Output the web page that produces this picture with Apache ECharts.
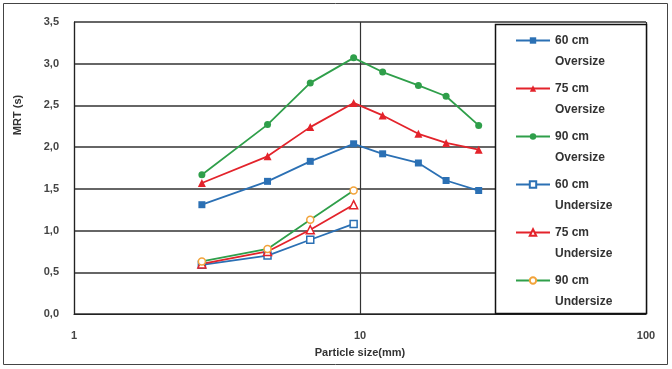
<!DOCTYPE html>
<html>
<head>
<meta charset="utf-8">
<script src="https://cdn.jsdelivr.net/npm/echarts@6/dist/echarts.min.js"></script>
<style>
  html, body { margin: 0; padding: 0; background: #fff; }
  #chart { width: 672px; height: 369px; }
</style>
</head>
<body>
<div id="chart"></div>
<script>
// particle sizes (mm)
const sizesOver = [2.8, 4.75, 6.7, 9.5, 12, 16, 20, 26];
const sizesUnder = [2.8, 4.75, 6.7, 9.5];

// MRT (s)
const over60 = [1.31, 1.59, 1.83, 2.04, 1.92, 1.81, 1.60, 1.48];
const over75 = [1.57, 1.89, 2.24, 2.53, 2.38, 2.16, 2.05, 1.97];
const over90 = [1.67, 2.27, 2.77, 3.07, 2.90, 2.74, 2.61, 2.26];
const under60 = [0.59, 0.70, 0.89, 1.08];
const under75 = [0.60, 0.75, 1.01, 1.31];
const under90 = [0.63, 0.78, 1.13, 1.48];

const seriesNames = ['60 cm\nOversize', '75 cm\nOversize', '90 cm\nOversize',
  '60 cm\nUndersize', '75 cm\nUndersize', '90 cm\nUndersize'];
const xTicks = [1, 10, 100];

const BLUE = '#2b70b4', RED = '#e3232b', GREEN = '#2f9f4a', ORANGE = '#f2a33a';
const FONT = '"Liberation Sans", Arial, sans-serif';

function pts(xs, ys) {
  return xs.map((x, i) => [x, ys[i]]);
}

function mk(name, xs, ys, color, symbol, hollow, markerColor) {
  return {
    name: name,
    type: 'line',
    data: pts(xs, ys),
    symbol: symbol,
    symbolSize: symbol === 'triangle' ? 8 : 7,
    showSymbol: true,
    lineStyle: { color: color, width: 1.8 },
    itemStyle: {
      color: hollow ? '#fff' : color,
      borderColor: markerColor || color,
      borderWidth: hollow ? 1.5 : 0
    },
    emphasis: { disabled: true },
    animation: false
  };
}

const chart = echarts.init(document.getElementById('chart'));
const option = {
  animation: false,
  grid: { left: 74, right: 26, top: 22, bottom: 55 },
  xAxis: {
    type: 'log',
    logBase: 10,
    min: 1,
    max: 100,
    name: 'Particle size(mm)',
    nameLocation: 'middle',
    nameGap: 33,
    nameTextStyle: { fontFamily: FONT, fontWeight: 'bold', fontSize: 11, color: '#333' },
    axisLine: { show: true, lineStyle: { color: '#222', width: 1.2 } },
    axisTick: { show: false },
    minorTick: { show: false },
    axisLabel: {
      margin: 16, fontFamily: FONT, fontWeight: 'bold', fontSize: 11, color: '#444',
      formatter: v => xTicks.includes(Math.round(v)) ? String(Math.round(v)) : ''
    },
    splitLine: { show: true, lineStyle: { color: '#333', width: 1.2 } }
  },
  yAxis: {
    type: 'value',
    min: 0,
    max: 3.5,
    interval: 0.5,
    axisLine: { show: true, lineStyle: { color: '#222', width: 1.2 } },
    axisTick: { show: false },
    axisLabel: {
      margin: 15, fontFamily: FONT, fontWeight: 'bold', fontSize: 11, color: '#444',
      formatter: v => v.toFixed(1).replace('.', ',')
    },
    splitLine: { show: true, lineStyle: { color: '#333', width: 1.5 } }
  },
  legend: {
    orient: 'vertical',
    left: 515,
    top: 9,
    padding: 0,
    itemGap: -15,
    itemWidth: 34,
    itemHeight: 8,
    data: seriesNames,
    // blank first line so the icon sits next to the first text line
    formatter: name => '\u00a0\n' + name,
    textStyle: {
      fontFamily: FONT, fontWeight: 'bold', fontSize: 12, color: '#333',
      lineHeight: 21
    }
  },
  graphic: [
    {
      type: 'rect', z: 3,
      shape: { x: 495.5, y: 24.5, width: 151, height: 289 },
      style: { fill: '#fff', stroke: '#111', lineWidth: 1.5 }
    },
    {
      type: 'rect', z: 0, silent: true,
      shape: { x: 3.5, y: 3.5, width: 664, height: 361 },
      style: { fill: 'none', stroke: '#444', lineWidth: 1 }
    },
    {
      type: 'text', z: 5,
      x: 18, y: 115, rotation: Math.PI / 2,
      style: {
        text: 'MRT (s)', align: 'center', verticalAlign: 'middle',
        font: 'bold 11px ' + FONT, fill: '#333'
      }
    }
  ],
  series: [
    mk(seriesNames[0], sizesOver, over60, BLUE, 'rect', false),
    mk(seriesNames[1], sizesOver, over75, RED, 'triangle', false),
    mk(seriesNames[2], sizesOver, over90, GREEN, 'circle', false),
    mk(seriesNames[3], sizesUnder, under60, BLUE, 'rect', true),
    mk(seriesNames[4], sizesUnder, under75, RED, 'triangle', true),
    mk(seriesNames[5], sizesUnder, under90, GREEN, 'circle', true, ORANGE)
  ]
};
option && chart.setOption(option);
</script>
</body>
</html>
